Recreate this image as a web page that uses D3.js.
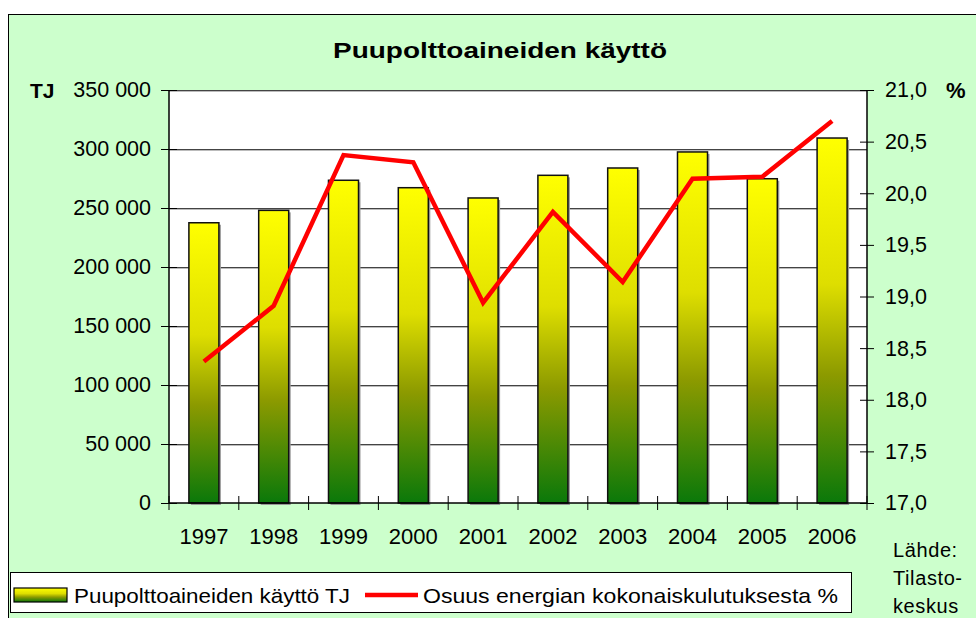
<!DOCTYPE html>
<html><head><meta charset="utf-8">
<script src="https://cdn.jsdelivr.net/npm/d3@7"></script>
<style>body{margin:0;background:#fff}svg{display:block;font-family:"Liberation Sans",Arial,sans-serif}</style>
</head><body><svg id="c" width="976" height="618"></svg>
<script>
const years = ["1997","1998","1999","2000","2001","2002","2003","2004","2005","2006"];
const usageTJ = [237500, 248000, 273500, 267200, 258500, 277700, 283900, 297500, 274800, 309300];
const sharePct = [18.37, 18.91, 20.37, 20.30, 18.94, 19.82, 19.14, 20.14, 20.16, 20.70];
const leftTicks = [0, 50000, 100000, 150000, 200000, 250000, 300000, 350000];
const rightTicks = [17.0, 17.5, 18.0, 18.5, 19.0, 19.5, 20.0, 20.5, 21.0];
const title = "Puupolttoaineiden käyttö";
const legendBar = "Puupolttoaineiden käyttö TJ";
const legendLine = "Osuus energian kokonaiskulutuksesta %";
const sourceLines = ["Lähde:", "Tilasto-", "keskus"];

const svg = d3.select("#c");
const L = 169, R = 867, T = 90, B = 503;

const defs = svg.append("defs");
const g = defs.append("linearGradient").attr("id","bg").attr("x1",0).attr("y1",0).attr("x2",0).attr("y2",1);
g.append("stop").attr("offset","0%").attr("stop-color","#ffff00");
g.append("stop").attr("offset","40%").attr("stop-color","#dede00");
g.append("stop").attr("offset","65%").attr("stop-color","#8c9a00");
g.append("stop").attr("offset","100%").attr("stop-color","#0a780a");

// chart background
svg.append("rect").attr("x",8.5).attr("y",14.5).attr("width",980).attr("height",620)
  .attr("fill","#ccffcc").attr("stroke","#000").attr("stroke-width",1);

const x = d3.scaleBand().domain(years).range([L, R]).paddingInner(0.57).paddingOuter(0.285);
const xb = d3.scaleBand().domain(years).range([L, R]);
const y = d3.scaleLinear().domain([0, 350000]).range([B, T]);
const y2 = d3.scaleLinear().domain([17, 21]).range([B, T]);

svg.append("rect").attr("x",L).attr("y",T).attr("width",R-L).attr("height",B-T).attr("fill","#fff");

// gridlines
svg.append("g").selectAll("line").data(leftTicks.slice(1)).join("line")
  .attr("x1",L).attr("x2",R).attr("y1",d=>y(d)+1.5).attr("y2",d=>y(d)+1.5)
  .attr("stroke","#bbb").attr("stroke-width",1);
svg.append("g").selectAll("line").data(leftTicks.slice(1)).join("line")
  .attr("x1",L).attr("x2",R).attr("y1",d=>y(d)+0.5).attr("y2",d=>y(d)+0.5)
  .attr("stroke","#444").attr("stroke-width",1);

// bars shadow + bars
svg.append("g").selectAll("rect").data(years).join("rect")
  .attr("x",d=>x(d)+2).attr("y",(d,i)=>y(usageTJ[i])+2)
  .attr("width",x.bandwidth()).attr("height",(d,i)=>B-y(usageTJ[i]))
  .attr("fill","#999");
svg.append("g").selectAll("rect").data(years).join("rect")
  .attr("x",d=>x(d)).attr("y",(d,i)=>y(usageTJ[i]))
  .attr("width",x.bandwidth()).attr("height",(d,i)=>B-y(usageTJ[i]))
  .attr("fill","url(#bg)").attr("stroke","#111").attr("stroke-width",1.5);

// axes
const fs = 21.5;
const ax = svg.append("g").attr("transform",`translate(${L},0)`)
  .call(d3.axisLeft(y).tickValues(leftTicks).tickSize(8).tickPadding(10)
    .tickFormat(d=>d3.format(",")(d).replace(/,/g," ")));
ax.selectAll(".tick line").attr("x2",-8).attr("x1",8);
const ax2 = svg.append("g").attr("transform",`translate(${R},0)`)
  .call(d3.axisRight(y2).tickValues(rightTicks).tickSize(7).tickPadding(11)
    .tickFormat(d=>d3.format(".1f")(d).replace(".",",")));
ax2.selectAll(".tick line").attr("x1",-7).attr("x2",7);
const axb = svg.append("g").attr("transform",`translate(0,${B})`)
  .call(d3.axisBottom(xb).tickSize(8).tickPadding(20));
axb.selectAll(".tick line").remove();
axb.append("g").selectAll("line").data(years.map(d=>xb(d)).concat([R])).join("line")
  .attr("x1",d=>d).attr("x2",d=>d).attr("y1",-7).attr("y2",7).attr("stroke","#000");
[ax,ax2,axb].forEach(a=>{
  a.select(".domain").attr("stroke","#000").attr("stroke-width",1.5);
  a.selectAll(".tick line").attr("stroke","#000");
  a.selectAll("text").attr("font-size",fs).attr("font-family","Liberation Sans, Arial, sans-serif").attr("fill","#000");
});
axb.selectAll(".tick text").attr("dy",null).attr("y",41).attr("font-size",22);
axb.select(".domain").attr("d",`M${L},0H${R}`);
ax.select(".domain").attr("d",`M0,${T}V${B}`);
ax2.select(".domain").attr("d",`M0,${T}V${B}`);

// line
const line = d3.line().x((d,i)=>xb(years[i])+xb.bandwidth()/2).y(d=>y2(d));
svg.append("path").datum(sharePct).attr("d",line).attr("fill","none")
  .attr("stroke","#ff0000").attr("stroke-width",4.5).attr("stroke-linejoin","miter");

// titles
svg.append("text").attr("x",333).attr("y",58)
  .attr("font-size",22.5).attr("font-weight","bold")
  .attr("textLength",334).attr("lengthAdjust","spacingAndGlyphs").text(title);
svg.append("text").attr("x",30).attr("y",98).attr("font-size",21).attr("font-weight","bold").text("TJ");
svg.append("text").attr("x",946).attr("y",98).attr("font-size",22).attr("font-weight","bold").text("%");

// legend
svg.append("rect").attr("x",10.5).attr("y",572.5).attr("width",841).attr("height",40)
  .attr("fill","#fff").attr("stroke","#000");
svg.append("rect").attr("x",14).attr("y",588).attr("width",53).attr("height",14)
  .attr("fill","url(#bg)").attr("stroke","#000").attr("stroke-width",1.2);
svg.append("text").attr("x",74).attr("y",603).attr("font-size",21)
  .attr("textLength",276).attr("lengthAdjust","spacingAndGlyphs").text(legendBar);
svg.append("line").attr("x1",365).attr("x2",418).attr("y1",595).attr("y2",595)
  .attr("stroke","#ff0000").attr("stroke-width",4.5);
svg.append("text").attr("x",423).attr("y",603).attr("font-size",21)
  .attr("textLength",415).attr("lengthAdjust","spacingAndGlyphs").text(legendLine);

// source
svg.append("g").selectAll("text").data(sourceLines).join("text")
  .attr("x",893).attr("y",(d,i)=>557+i*28).attr("font-size",20).attr("letter-spacing",0.6).text(d=>d);
</script></body></html>
